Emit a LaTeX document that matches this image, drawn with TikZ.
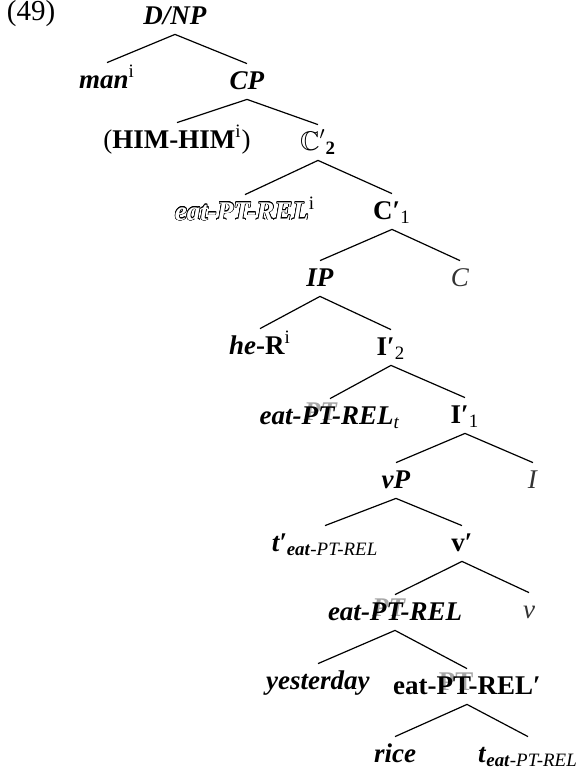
\documentclass[tikz,border=0pt]{standalone}
\usepackage{fontspec}
\usepackage{amssymb}
\usepackage{contour}
\setmainfont{Liberation Serif}
\contourlength{0.3pt}
\newcommand\bi[1]{\textbf{\textit{#1}}}
\newcommand\ovl[1]{\rlap{\hspace{0.08em}\raisebox{0.14em}{\color{black!35}#1}}#1}
\newcommand\sbs[1]{\textsubscript{#1}}
\newcommand\sps[1]{\textsuperscript{#1}}
\begin{document}
\begin{tikzpicture}[x=0.5pt,y=-0.5pt,
  lbl/.style={anchor=base, inner xsep=0pt, inner ysep=1pt, text height=11.5pt, text depth=4pt, font=\fontsize{13.5}{16}\selectfont},
  branch/.style={line width=0.6pt}]
\useasboundingbox (0,0) rectangle (582,772);
\node[lbl] (ex) at (31,20) {\fontsize{14.5}{16}\selectfont(49)};
\node[lbl] (dnp) at (175,24) {\bi{D/NP}};
\node[lbl] (man) at (107,88) {\bi{man}\sps{i}};
\node[lbl] (cp) at (247,89) {\bi{CP}};
\node[lbl] (him) at (177,148) {(\textbf{HIM-HIM}\sps{i})};
\node[lbl] (ctwo) at (318,150) {$\mathbb{C}'{}_{\mathbf{2}}$};
\node[lbl] (eati) at (245,220) {{\color{white}\contour{black}{\bi{eat-PT-REL}}}\sps{i}};
\node[lbl] (cone) at (392,219) {\textbf{C′}\sbs{1}};
\node[lbl] (ip) at (320,286) {\bi{IP}};
\node[lbl] (c) at (460,286) {\color{black!80}\textit{C}};
\node[lbl] (her) at (260,354) {\bi{he}\textbf{-R}\sps{i}};
\node[lbl] (itwo) at (391,355) {\textbf{I′}\sbs{2}};
\node[lbl] (eatt) at (330,424) {\bi{eat-\ovl{PT}-REL}\sbs{\textit{t}}};
\node[lbl] (ione) at (465,423) {\textbf{I′}\sbs{1}};
\node[lbl] (vp) at (396,488) {\bi{vP}};
\node[lbl] (i) at (533,488) {\color{black!80}\textit{I}};
\node[lbl] (tpr) at (325,551) {\bi{t′}\sbs{\bi{eat}\textit{-PT-REL}}};
\node[lbl] (vpr) at (462,551) {\textbf{v′}};
\node[lbl] (eat) at (395,620) {\bi{eat-\ovl{PT}-REL}};
\node[lbl] (v) at (529,618) {\color{black!80}\textit{v}};
\node[lbl] (yest) at (318,689) {\bi{yesterday}};
\node[lbl] (eatpr) at (467,694) {\textbf{eat-\ovl{PT}-REL′}};
\node[lbl] (rice) at (395,762) {\bi{rice}};
\node[lbl] (t) at (528,762) {\bi{t}\sbs{\bi{eat}\textit{-PT-REL}}};
\foreach \p/\c in {dnp/man,dnp/cp,cp/him,cp/ctwo,ctwo/eati,ctwo/cone,cone/ip,cone/c,ip/her,ip/itwo,itwo/eatt,itwo/ione,ione/vp,ione/i,vp/tpr,vp/vpr,vpr/eat,vpr/v,eat/yest,eat/eatpr,eatpr/rice,eatpr/t}
  \draw[branch] (\p.south) -- (\c.north);
\end{tikzpicture}
\end{document}
